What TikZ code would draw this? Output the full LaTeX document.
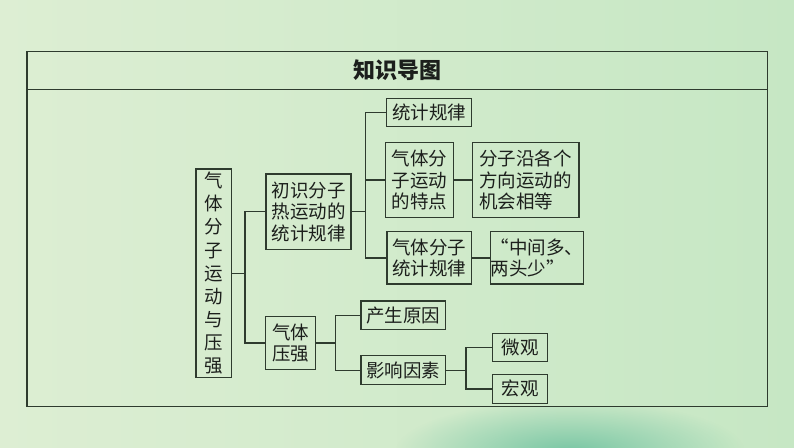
\documentclass[tikz,border=0pt]{standalone}
\usepackage{fontspec}
\usepackage{tikz}
\usetikzlibrary{fadings}
\newfontfamily\cjk{Noto Sans CJK SC}
\definecolor{bgleft}{HTML}{DDEED3}
\definecolor{bgright}{HTML}{C6E7C4}
\definecolor{blobteal}{HTML}{78C6A4}
\definecolor{linegray}{HTML}{2E3B2E}
\definecolor{inkdark}{HTML}{1C1F1C}
\tikzfading[name=blobfade,inner color=transparent!0,outer color=transparent!100]

\begin{document}
\begin{tikzpicture}[x=1pt,y=-1pt,
  box/.style={draw=linegray,line width=1.4pt,inner sep=1pt,text=inkdark,
    font=\cjk\fontsize{18.5}{21.7}\selectfont,align=center},
  link/.style={draw=linegray,line width=1.4pt}]
  \useasboundingbox (0,0) rectangle (794,447);
  \shade[left color=bgleft,right color=bgright] (0,0) rectangle (794,447);
  \begin{scope}
    \clip (0,407.5) rectangle (794,447);
    \fill[blobteal,path fading=blobfade] (570,452) ellipse (175 and 52);
  \end{scope}

  % frame and title
  \draw[linegray,line width=1.2pt] (27,51.5) rectangle (767.5,406.5);
  \draw[linegray,line width=1.2pt] (27,89.3) -- (767.5,89.3);
  \node[font=\cjk\bfseries\fontsize{22}{26}\selectfont,text=inkdark] (title) at (397,70.5) {知识导图};

  % boxes
  \node[box,minimum width=35.7pt,minimum height=208.3pt,font=\cjk\fontsize{18.5}{23.1}\selectfont] (root) at (213.9,273.2)
    {气\\体\\分\\子\\运\\动\\与\\压\\强};
  \node[box,minimum width=85pt,minimum height=75.3pt] (chuzhi) at (308.5,211.7) {初识分子\\热运动的\\统计规律};
  \node[box,minimum width=50.4pt,minimum height=52.6pt] (yaqiang) at (290.5,343) {气体\\压强};
  \node[box,minimum width=85pt,minimum height=28.4pt] (tongji) at (429.2,112.5) {统计规律};
  \node[box,minimum width=68pt,minimum height=75.4pt] (tedian) at (419.7,180) {气体分\\子运动\\的特点};
  \node[box,minimum width=106.7pt,minimum height=75.4pt,align=left] (jihui) at (525.7,180) {分子沿各个\\方向运动的\\机会相等};
  \node[box,minimum width=84.7pt,minimum height=52.3pt] (guilv) at (429.2,257.9) {气体分子\\统计规律};
  \node[box,minimum width=92.6pt,minimum height=52.3pt,align=left,inner sep=0pt] (duoshao) at (537,257.9) {“中间多、\\两头少”};
  \node[box,minimum width=84.7pt,minimum height=28.3pt] (yuanyin) at (403.3,315.2) {产生原因};
  \node[box,minimum width=84.7pt,minimum height=29pt] (yinsu) at (403.3,370.2) {影响因素};
  \node[box,minimum width=55.4pt,minimum height=28.4pt] (weiguan) at (520,347.5) {微观};
  \node[box,minimum width=55.4pt,minimum height=29pt] (hongguan) at (520,388.8) {宏观};

  % junctions
  \coordinate (j1) at (245,273.2);
  \coordinate (j2) at (365.3,211.7);
  \coordinate (j3) at (335.7,343);
  \coordinate (j4) at (466,370.2);

  % connectors
  \draw[link] (root.east) -- (j1);
  \draw[link] (chuzhi.west) -| (j1) |- (yaqiang.west);
  \draw[link] (chuzhi.east) -- (j2);
  \draw[link] (tongji.west) -| (j2) |- (guilv.west);
  \draw[link] (j2 |- tedian.west) -- (tedian.west);
  \draw[link] (tedian.east) -- (jihui.west);
  \draw[link] (guilv.east) -- (duoshao.west);
  \draw[link] (yaqiang.east) -- (j3);
  \draw[link] (yuanyin.west) -| (j3) |- (yinsu.west);
  \draw[link] (yinsu.east) -- (j4);
  \draw[link] (weiguan.west) -| (j4) |- (hongguan.west);
\end{tikzpicture}
\end{document}
